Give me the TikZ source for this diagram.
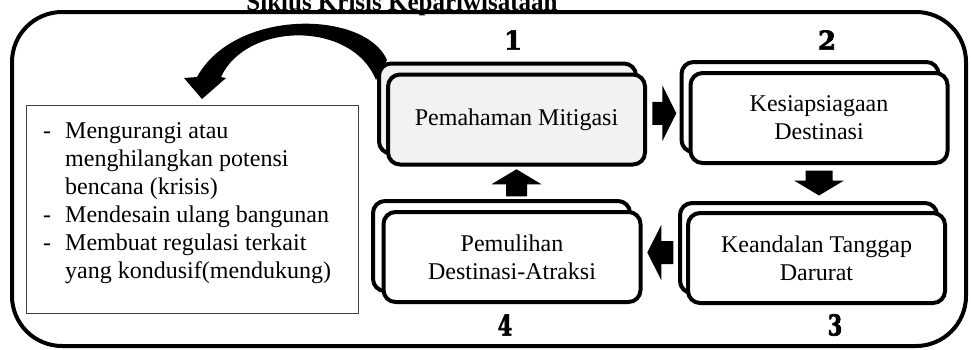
\documentclass[tikz,border=0pt]{standalone}
\usepackage{fontspec}
\setmainfont{Liberation Serif}
\newfontfamily\numfont[BoldFeatures={FakeBold=2.5}]{DejaVu Serif}
\usetikzlibrary{calc}
\definecolor{boxgray}{HTML}{F2F2F2}
\begin{document}
\begin{tikzpicture}[x=1pt,y=-1pt,
  cbox/.style={draw, line width=4pt, rounded corners=12pt, minimum width=257pt,
    minimum height=90pt, inner sep=0pt, fill=white, align=center,
    font=\fontsize{24}{28}\selectfont},
  numlbl/.style={font=\numfont\bfseries\fontsize{26}{26}\selectfont, inner sep=0pt},
  ltextstyle/.style={font=\fontsize{24}{28}\selectfont, inner sep=0pt}]
\useasboundingbox (0,0) rectangle (971,349);

% title (partly cut at top, as in the reference)
\node[font=\bfseries\fontsize{25}{25}\selectfont, anchor=base] (title) at (402,10) {Siklus Krisis Kepariwisataan};

% outer frame
\draw[line width=4pt, rounded corners=50pt] (12,12) rectangle (966,346);

% curved arrow
\fill (387,60) .. controls (365,10) and (235,8) .. (197,77)
  -- (184,78) -- (202,99) -- (226,78) -- (221,77)
  .. controls (246,22) and (352,20) .. (376,80) -- cycle;

% boxes
\node[cbox, fill=boxgray] (b1back) at (507.5,108.5) {};
\node[cbox, fill=boxgray] (b1) at (516.5,119.5) {Pemahaman Mitigasi};
\node[cbox] (b2back) at (810,107) {};
\node[cbox] (b2) at (819,118) {Kesiapsiagaan\\Destinasi};
\node[cbox] (b3back) at (808.5,248) {};
\node[cbox] (b3) at (816.5,258) {Keandalan Tanggap\\Darurat};
\node[cbox] (b4back) at (501.5,246) {};
\node[cbox] (b4) at (512,257) {Pemulihan\\Destinasi-Atraksi};

% numbers
\node[numlbl] (n1) at (513,40) {1};
\node[numlbl] (n2) at (827,40) {2};
\node[numlbl, xscale=0.8, yscale=1.1] (n3) at (835,325) {3};
\node[numlbl, xscale=0.8, yscale=1.1] (n4) at (505,325) {4};

% block arrows between the boxes
\coordinate (a12) at ($(b1.east)!.5!(b2back.west)$);
\coordinate (a23) at ($(b2.south)!.5!(b2.south |- b3back.north)$);
\coordinate (a34) at ($(b3back.west)!.5!(b4.east)$);
\coordinate (a41) at ($(b1.south)!.5!(b1.south |- b4back.north)$);
\fill[shift={(a12)}] (-11,-11.5) -- (-1,-11.5) -- (-1,-28) -- (13,0) -- (-1,28) -- (-1,11.5) -- (-11,11.5) -- cycle;
\fill[shift={(a23)}] (-13.5,-12.5) -- (13.5,-12.5) -- (13.5,-2.5) -- (25,-2.5) -- (0,12.5) -- (-25,-2.5) -- (-13.5,-2.5) -- cycle;
\fill[shift={(a34)}] (13,-11.5) -- (1,-11.5) -- (1,-27.5) -- (-13,0) -- (1,27.5) -- (1,11.5) -- (13,11.5) -- cycle;
\fill[shift={(a41)}] (-10.5,13.5) -- (-10.5,1.5) -- (-25,1.5) -- (0,-13.5) -- (25,1.5) -- (10.5,1.5) -- (10.5,13.5) -- cycle;

% left text box
\node[draw=black!75, line width=1pt, minimum width=332pt, minimum height=208pt, inner sep=0pt] (lbox) at (192,209) {};
\node[ltextstyle, anchor=base west] (ltext) at (43,138) {%
  \begin{tabular}[t]{@{}l@{\hspace{14pt}}l@{}}
  - & Mengurangi atau\\
    & menghilangkan potensi\\
    & bencana (krisis)\\
  - & Mendesain ulang bangunan\\
  - & Membuat regulasi terkait\\
    & yang kondusif(mendukung)
  \end{tabular}};
\end{tikzpicture}
\end{document}
